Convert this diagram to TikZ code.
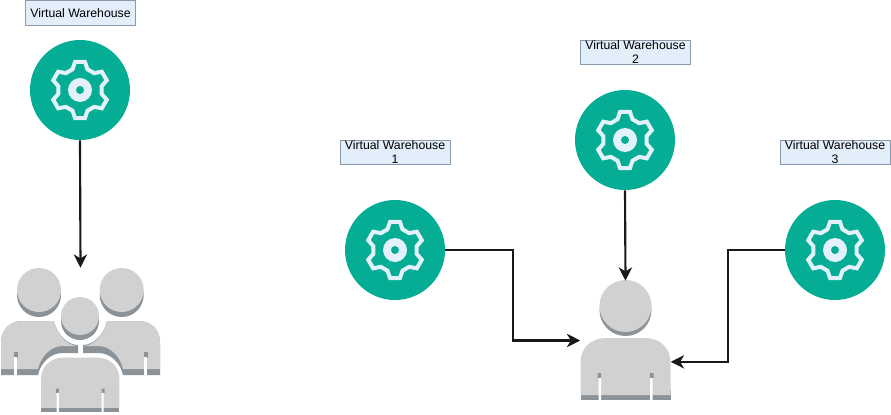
\documentclass[tikz,border=0pt]{standalone}
\usepackage{fontspec}
\setmainfont{Liberation Sans}
\usepackage{xcolor}
\usetikzlibrary{arrows.meta,positioning}
\definecolor{vwteal}{HTML}{05AD95}
\definecolor{vwgear}{HTML}{E3F1FC}
\definecolor{vwfill}{HTML}{E2EEFA}
\definecolor{vwedge}{HTML}{8A9AAB}
\definecolor{userlight}{HTML}{D1D1D1}
\definecolor{usershade}{HTML}{8B9298}

\begin{document}
\begin{tikzpicture}[
  x=0.75pt,y=-0.75pt,
  label/.style ={rectangle,draw=vwedge,fill=vwfill,line width=0.6pt,inner sep=0pt,
               minimum width=82.5pt,minimum height=18.5pt,align=center,
               font=\fontsize{9.2}{10.5}\selectfont},
  engine/.style={circle,fill=vwteal,minimum size=75pt,inner sep=0pt},
  target/.style={rectangle,inner sep=0pt},
  arrow/.style={-{Stealth[length=10pt,width=10pt,inset=3pt]},line width=1.6pt,black!90},
  gear/.pic={
    \draw[vwgear,line width=3pt,line join=miter,fill=vwteal]
      (20:28.5) \foreach \a in {30,90,...,330} {
        -- (\a-10:28.5) -- (\a+10:28.5) -- (\a+20:22) -- (\a+40:22)
      } -- cycle;
    \fill[vwgear] (0,0) circle (12);
    \fill[vwteal] (0,0) circle (4);
  },
  torso/.pic={
    \fill[usershade] (-45,52) rectangle (45,62);
    \fill[userlight] (-45,57) -- (-45,24) .. controls (-45,10) and (-34,0) .. (-20,0) -- (20,0)
      .. controls (34,0) and (45,10) .. (45,24) -- (45,57) -- cycle;
    \fill[usershade] (-28,35) rectangle (-24.5,40) (24.5,35) rectangle (28,40);
    \fill[white] (-27,40) rectangle (-24.5,62) (24.5,40) rectangle (27,62);
  },
  shoulder/.pic={
    \fill[usershade] (-79.5,54) -- (-79.5,22) .. controls (-79.5,8) and (-70,0) .. (-58,0) -- (-26.5,0)
      .. controls (-24,12) and (-14,24) .. (-2.5,24) -- (-2.5,32) -- (-18,32)
      .. controls (-30,32) and (-40,42) .. (-42.5,54) -- cycle;
    \fill[userlight] (-79.5,48) -- (-79.5,22) .. controls (-79.5,8) and (-70,0) .. (-58,0) -- (-26.5,0)
      .. controls (-24,12) and (-14,25) .. (-2.5,25) -- (-18,25)
      .. controls (-30,25) and (-40,36) .. (-42.5,48) -- cycle;
    \fill[usershade] (-67,31) rectangle (-63,37);
    \fill[white] (-66.5,36) rectangle (-63.5,54);
  },
]
\useasboundingbox (0,0) rectangle (891,414);
% left side
\node[label]  (tagsolo)  at (80.5,13)  {Virtual Warehouse};
\node[engine] (vwsolo)   at (80,90)    {};
\node[target,minimum width=120.75pt,minimum height=108.75pt] (team) at (80.5,340.5) {};
\pic at (vwsolo) {gear};
\fill[usershade] (39,295) circle (22) (121.7,295) circle (22);
\fill[userlight] (39,290) circle (22) (121.7,290) circle (22);
\pic at (80.5,321) {shoulder};
\pic[xscale=-1] at (80.5,321) {shoulder};
\fill[usershade] (80,321) circle (19);
\fill[userlight] (80,316) circle (19);
\pic[xscale=0.87,yscale=0.88] at (80.2,357.7) {torso};
% right side
\node[label]  (tagone)   at (395,152.5)   {Virtual Warehouse\\1};
\node[label]  (tagtwo)   at (635.5,52.5)  {Virtual Warehouse\\2};
\node[label]  (tagthree) at (835,152.5)   {Virtual Warehouse\\3};
\node[engine] (vwone)    at (395,250)  {};
\node[engine] (vwtwo)    at (625,140)  {};
\node[engine] (vwthree)  at (835,250)  {};
\node[target,minimum width=67.5pt,minimum height=89.25pt] (user) at (625.5,340.5) {};
\pic at (vwone) {gear};
\pic at (vwtwo) {gear};
\pic at (vwthree) {gear};
\fill[usershade] (625.5,310) circle (26);
\fill[userlight] (625.5,306) circle (26);
\pic at (625.5,338) {torso};
\draw[arrow] (vwsolo.south) -- (team.north);
\draw[arrow] (vwtwo.south) -- (user.north);
\draw[arrow] (vwone.east) -- ++(68,0) |- (user.west);
\draw[arrow] (vwthree.west) -- ++(-57,0) |- ([yshift=-16pt]user.east);
\end{tikzpicture}
\end{document}
